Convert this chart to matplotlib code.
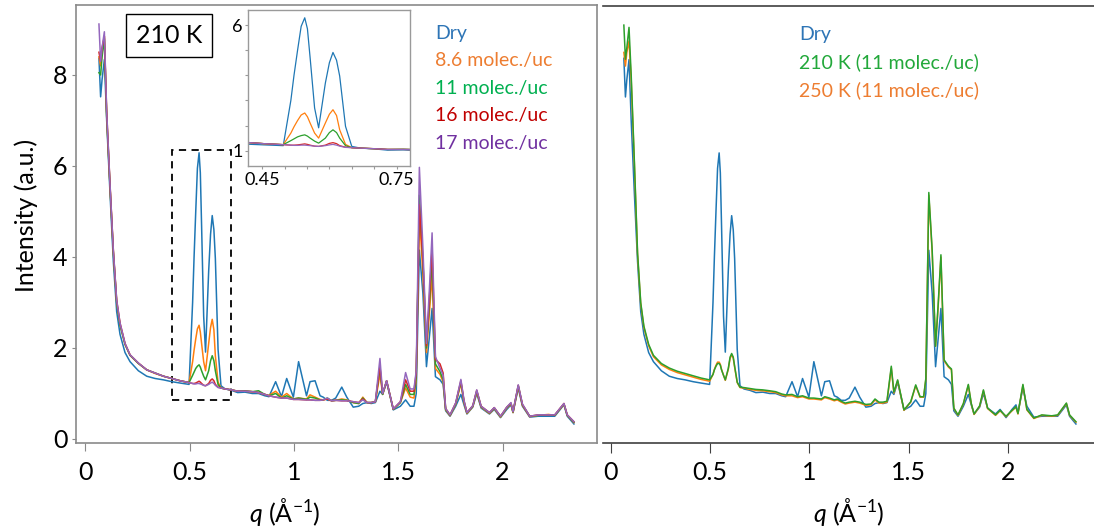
import matplotlib
matplotlib.use('Agg')
import matplotlib.pyplot as plt
from matplotlib.patches import Rectangle

plt.rcParams['font.family'] = ['Lato', 'DejaVu Sans']
plt.rcParams['mathtext.fontset'] = 'custom'
plt.rcParams['mathtext.it'] = 'Lato:italic'
plt.rcParams['mathtext.rm'] = 'Lato'

# q grid (1/Angstrom) shared by all curves
q = [0.065, 0.073, 0.080, 0.091, 0.102, 0.118, 0.134, 0.150, 0.166, 0.190,
     0.214, 0.254, 0.294, 0.334, 0.374, 0.414, 0.454, 0.497, 0.514, 0.521,
     0.529, 0.537, 0.545, 0.551, 0.557, 0.567, 0.576, 0.591, 0.600, 0.608,
     0.616, 0.623, 0.636, 0.650, 0.670,
     0.700, 0.730, 0.765, 0.800, 0.830, 0.860, 0.880, 0.912, 0.940, 0.965,
     0.997, 1.022, 1.060, 1.077, 1.101, 1.125, 1.140, 1.160, 1.180, 1.200,
     1.229, 1.253, 1.284, 1.310, 1.330, 1.350, 1.370, 1.390, 1.412, 1.425,
     1.444, 1.476, 1.510, 1.535, 1.557, 1.575, 1.586, 1.601, 1.618, 1.635,
     1.648, 1.662, 1.678, 1.700, 1.715, 1.727, 1.748, 1.775, 1.800, 1.815,
     1.829, 1.857, 1.876, 1.897, 1.937, 1.960, 1.990, 2.020, 2.040, 2.050,
     2.075, 2.095, 2.130, 2.170, 2.220, 2.250, 2.294, 2.310, 2.342]

dry = [8.37, 7.52, 7.90, 8.34, 7.00, 5.40, 3.90, 2.80, 2.30, 1.90,
       1.70, 1.50, 1.38, 1.33, 1.30, 1.26, 1.23, 1.20, 3.00, 4.00,
       5.00, 5.95, 6.29, 5.85, 4.70, 2.70, 1.91, 3.69, 4.50, 4.91,
       4.60, 3.97, 1.97, 1.17, 1.10,
       1.07, 1.02, 1.03, 1.00, 1.00, 0.95, 0.93, 1.26, 0.93, 1.33,
       0.92, 1.70, 0.95, 1.26, 1.28, 0.95, 0.92, 0.85, 0.85, 0.90,
       1.14, 0.92, 0.70, 0.72, 0.78, 0.80, 0.78, 0.80, 1.05, 0.98,
       1.25, 0.64, 0.72, 0.86, 0.72, 0.72, 1.00, 4.15, 3.20, 1.59,
       2.20, 2.87, 1.37, 1.30, 1.20, 0.62, 0.50, 0.72, 0.98, 0.75,
       0.55, 0.70, 1.00, 0.68, 0.55, 0.65, 0.47, 0.65, 0.75, 0.58,
       1.12, 0.72, 0.48, 0.50, 0.50, 0.50, 0.75, 0.50, 0.33]

m86 = [8.40, 8.20, 8.50, 8.85, 7.10, 5.55, 4.10, 3.00, 2.52, 2.08,
       1.84, 1.66, 1.52, 1.44, 1.38, 1.33, 1.28, 1.24, 1.70, 1.95,
       2.20, 2.42, 2.50, 2.35, 2.10, 1.70, 1.50, 2.10, 2.45, 2.63,
       2.40, 1.83, 1.25, 1.12, 1.10,
       1.08, 1.05, 1.05, 1.04, 1.02, 0.98, 0.96, 1.05, 0.92, 1.00,
       0.88, 0.90, 0.88, 0.97, 0.92, 0.87, 0.86, 0.88, 0.84, 0.85,
       0.88, 0.86, 0.80, 0.78, 0.92, 0.80, 0.80, 0.82, 1.42, 0.98,
       1.27, 0.65, 0.80, 1.12, 0.92, 0.90, 1.30, 4.96, 3.60, 1.90,
       2.70, 3.60, 1.55, 1.42, 1.25, 0.64, 0.51, 0.76, 1.22, 0.80,
       0.56, 0.71, 1.03, 0.70, 0.56, 0.67, 0.48, 0.68, 0.77, 0.58,
       1.15, 0.74, 0.49, 0.52, 0.54, 0.52, 0.76, 0.52, 0.36]

m11 = [8.05, 8.00, 8.40, 8.80, 7.10, 5.55, 4.10, 3.00, 2.50, 2.08,
       1.84, 1.66, 1.52, 1.45, 1.38, 1.33, 1.28, 1.24, 1.40, 1.47,
       1.55, 1.60, 1.63, 1.58, 1.50, 1.38, 1.30, 1.50, 1.72, 1.83,
       1.72, 1.50, 1.20, 1.12, 1.10,
       1.08, 1.05, 1.06, 1.04, 1.06, 0.98, 0.95, 1.00, 0.90, 0.95,
       0.88, 0.90, 0.87, 0.92, 0.90, 0.86, 0.86, 0.90, 0.84, 0.85,
       0.86, 0.85, 0.80, 0.78, 0.90, 0.80, 0.80, 0.82, 1.56, 0.98,
       1.28, 0.65, 0.80, 1.20, 0.98, 0.98, 1.35, 5.36, 3.90, 2.00,
       2.90, 3.93, 1.65, 1.48, 1.30, 0.65, 0.52, 0.77, 1.25, 0.82,
       0.57, 0.72, 1.05, 0.71, 0.57, 0.68, 0.49, 0.69, 0.78, 0.59,
       1.17, 0.75, 0.50, 0.52, 0.53, 0.52, 0.77, 0.52, 0.37]

m16 = [8.50, 8.30, 8.60, 8.85, 7.20, 5.60, 4.15, 3.05, 2.55, 2.10,
       1.85, 1.67, 1.52, 1.45, 1.38, 1.33, 1.28, 1.24, 1.22, 1.22,
       1.23, 1.25, 1.27, 1.25, 1.22, 1.18, 1.17, 1.22, 1.29, 1.32,
       1.28, 1.20, 1.14, 1.12, 1.10,
       1.08, 1.05, 1.05, 1.04, 1.02, 0.98, 0.95, 0.92, 0.90, 0.90,
       0.87, 0.87, 0.86, 0.86, 0.85, 0.85, 0.86, 0.88, 0.84, 0.85,
       0.84, 0.84, 0.82, 0.80, 0.88, 0.80, 0.80, 0.82, 1.60, 1.00,
       1.28, 0.66, 0.82, 1.30, 1.05, 1.05, 1.45, 5.15, 3.95, 2.05,
       3.00, 4.20, 1.75, 1.65, 1.45, 0.67, 0.53, 0.79, 1.28, 0.84,
       0.58, 0.73, 1.07, 0.72, 0.58, 0.69, 0.50, 0.70, 0.79, 0.60,
       1.18, 0.76, 0.50, 0.53, 0.53, 0.53, 0.78, 0.53, 0.38]

m17 = [9.12, 8.30, 8.60, 8.95, 7.20, 5.60, 4.15, 3.05, 2.55, 2.10,
       1.85, 1.67, 1.52, 1.45, 1.38, 1.33, 1.28, 1.24, 1.22, 1.21,
       1.21, 1.22, 1.22, 1.21, 1.20, 1.18, 1.17, 1.20, 1.23, 1.25,
       1.22, 1.18, 1.13, 1.12, 1.10,
       1.08, 1.05, 1.05, 1.04, 1.02, 0.98, 0.95, 0.92, 0.90, 0.90,
       0.87, 0.87, 0.86, 0.86, 0.85, 0.85, 0.86, 0.90, 0.84, 0.85,
       0.84, 0.84, 0.82, 0.80, 0.86, 0.80, 0.80, 0.82, 1.77, 1.00,
       1.28, 0.66, 0.82, 1.46, 1.10, 1.10, 1.50, 5.97, 4.20, 2.10,
       3.20, 4.53, 1.81, 1.56, 1.40, 0.67, 0.53, 0.79, 1.31, 0.85,
       0.58, 0.73, 1.08, 0.72, 0.58, 0.69, 0.50, 0.70, 0.80, 0.60,
       1.19, 0.77, 0.50, 0.53, 0.53, 0.53, 0.78, 0.53, 0.38]

# right panel: same loading (11 molec./uc) at two temperatures
t210 = [9.10, 8.35, 8.60, 9.05, 8.00, 6.10, 4.10, 3.00, 2.48, 2.08,
        1.84, 1.66, 1.56, 1.49, 1.44, 1.39, 1.34, 1.30, 1.42, 1.52,
        1.60, 1.66, 1.66, 1.62, 1.52, 1.40, 1.30, 1.55, 1.80, 1.88,
        1.80, 1.60, 1.25, 1.14, 1.13,
        1.11, 1.09, 1.08, 1.06, 1.04, 0.99, 0.97, 0.98, 0.93, 0.95,
        0.90, 0.90, 0.88, 0.93, 0.90, 0.86, 0.88, 0.83, 0.79, 0.81,
        0.83, 0.81, 0.76, 0.77, 0.88, 0.81, 0.81, 0.83, 1.60, 1.03,
        1.30, 0.64, 0.82, 1.19, 0.93, 0.93, 1.33, 5.42, 4.15, 2.04,
        2.95, 4.05, 1.74, 1.60, 1.54, 0.68, 0.53, 0.78, 1.20, 0.78,
        0.55, 0.73, 1.08, 0.68, 0.53, 0.63, 0.50, 0.63, 0.71, 0.56,
        1.20, 0.65, 0.46, 0.53, 0.51, 0.53, 0.79, 0.53, 0.38]

t250 = [8.50, 8.20, 8.50, 8.75, 7.90, 6.05, 4.05, 2.97, 2.45, 2.05,
        1.81, 1.63, 1.53, 1.46, 1.41, 1.36, 1.31, 1.27, 1.42, 1.53,
        1.62, 1.69, 1.69, 1.64, 1.53, 1.40, 1.29, 1.53, 1.77, 1.85,
        1.78, 1.58, 1.24, 1.13, 1.12,
        1.09, 1.07, 1.06, 1.04, 1.02, 0.97, 0.95, 0.95, 0.91, 0.93,
        0.88, 0.88, 0.86, 0.91, 0.88, 0.84, 0.86, 0.81, 0.77, 0.79,
        0.81, 0.79, 0.74, 0.75, 0.86, 0.79, 0.79, 0.81, 1.56, 1.01,
        1.28, 0.63, 0.81, 1.17, 0.92, 0.92, 1.31, 5.36, 4.10, 2.04,
        2.90, 4.00, 1.72, 1.58, 1.52, 0.67, 0.52, 0.77, 1.18, 0.77,
        0.54, 0.72, 1.06, 0.67, 0.52, 0.62, 0.49, 0.62, 0.70, 0.55,
        1.18, 0.64, 0.45, 0.52, 0.50, 0.52, 0.78, 0.52, 0.37]

left_series = [dry, m86, m11, m16, m17]
left_labels = ['Dry', '8.6 molec./uc', '11 molec./uc', '16 molec./uc', '17 molec./uc']
line_colors = ['#1f77b4', '#ff7f0e', '#2ca02c', '#d62728', '#9467bd']
text_colors = ['#2E75B6', '#ED7D31', '#00B050', '#C00000', '#7030A0']

right_series = [dry, t250, t210]
right_line_colors = ['#1f77b4', '#ff7f0e', '#2ca02c']
right_labels = ['Dry', '210 K (11 molec./uc)', '250 K (11 molec./uc)']
right_text_colors = ['#2E75B6', '#22a83a', '#ED7D31']

xticks = [0, 0.5, 1, 1.5, 2]
xticklabels = ['0', '0.5', '1', '1.5', '2']

fig = plt.figure(figsize=(10.94, 5.28), dpi=100)

# ---- left panel ----
ax = fig.add_axes([0.06947, 0.16098, 0.47623, 0.82955])
for s, c in zip(left_series, line_colors):
    ax.plot(q, s, color=c, lw=1.1)
ax.set_xlim(-0.045, 2.4525)
ax.set_ylim(-0.088, 9.538)
ax.set_xticks(xticks)
ax.set_xticklabels(xticklabels)
ax.set_yticks([0, 2, 4, 6, 8])
for sp in ax.spines.values():
    sp.set_color('#8a8a8a')
    sp.set_linewidth(1.2)
ax.tick_params(axis='x', length=6, color='#8a8a8a', labelsize=18, pad=7)
ax.tick_params(axis='y', length=3, color='#8a8a8a', labelsize=18, pad=3)
ax.set_ylabel('Intensity (a.u.)', fontsize=18)
ax.yaxis.set_label_coords(-0.073, 0.52)
ax.set_xlabel('$q$ (Å$^{-1}$)', fontsize=18)
ax.xaxis.set_label_coords(0.40, -0.122)

ax.add_patch(Rectangle((0.415, 0.86), 0.285, 5.49, fill=False, ec='black',
                       lw=1.3, ls=(0, (4, 3))))
ax.text(0.1785, 0.9315, '210 K', transform=ax.transAxes, fontsize=18,
        ha='center', va='center',
        bbox=dict(boxstyle='square,pad=0.4', fc='white', ec='black', lw=1))

for i, (lab, c) in enumerate(zip(left_labels, text_colors)):
    ax.text(0.689, 0.936 - i * 0.0628, lab, transform=ax.transAxes,
            color=c, fontsize=14, ha='left', va='center')

# inset zoom on the 0.5 region
axin = fig.add_axes([0.22697, 0.68561, 0.14781, 0.29545])
for s, c in zip(left_series, line_colors):
    axin.plot(q, s, color=c, lw=0.9)
axin.set_xlim(0.419, 0.78)
axin.set_ylim(0.39, 6.6)
axin.set_xticks([0.45, 0.5, 0.55, 0.6, 0.65, 0.7, 0.75])
axin.set_xticklabels(['0.45', '', '', '', '', '', '0.75'])
axin.set_yticks([1, 2, 3, 4, 5, 6])
axin.set_yticklabels(['1', '', '', '', '', '6'])
for sp in axin.spines.values():
    sp.set_color('#9a9a9a')
    sp.set_linewidth(1.0)
axin.tick_params(length=2, color='#9a9a9a', labelsize=13, pad=2)

# ---- right panel ----
ax2 = fig.add_axes([0.55119, 0.16098, 0.44881, 0.82765])
for s, c in zip(right_series, right_line_colors):
    ax2.plot(q, s, color=c, lw=1.1)
ax2.set_xlim(-0.040, 2.433)
ax2.set_ylim(-0.088, 9.52)
ax2.set_xticks(xticks)
ax2.set_xticklabels(xticklabels)
ax2.set_yticks([])
ax2.spines['left'].set_visible(False)
ax2.spines['right'].set_visible(False)
for side in ['top', 'bottom']:
    ax2.spines[side].set_color('#404040')
    ax2.spines[side].set_linewidth(1.2)
ax2.tick_params(axis='x', length=7, color='#404040', labelsize=18, pad=6)
ax2.set_xlabel('$q$ (Å$^{-1}$)', fontsize=18)
ax2.xaxis.set_label_coords(0.50, -0.122)

for i, (lab, c) in enumerate(zip(right_labels, right_text_colors)):
    ax2.text(0.399, 0.934 - i * 0.0628, lab, transform=ax2.transAxes,
             color=c, fontsize=14, ha='left', va='center')

fig.savefig('out.png', dpi=100)
